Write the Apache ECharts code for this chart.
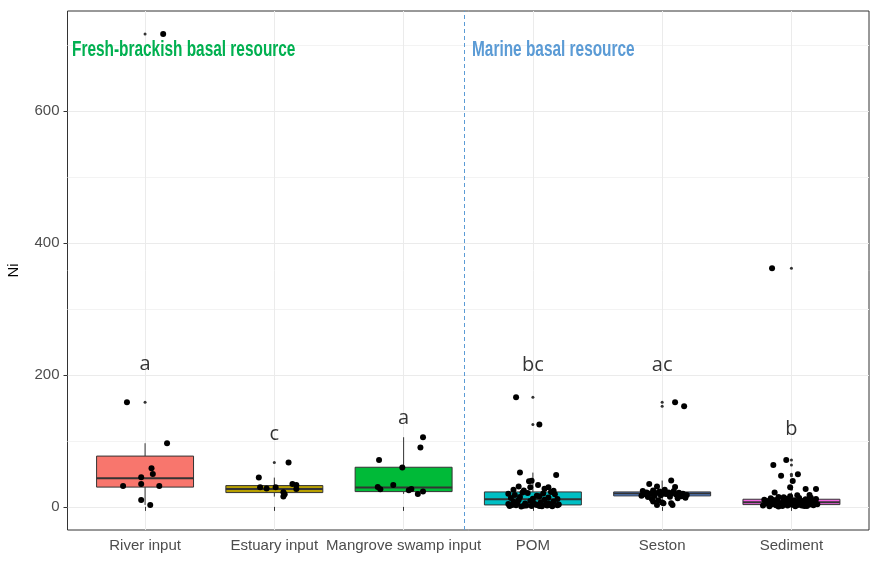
<!DOCTYPE html>
<html>
<head>
<meta charset="utf-8">
<script src="https://cdn.jsdelivr.net/npm/echarts@6/dist/echarts.min.js"></script>
<style>
  html, body { margin: 0; padding: 0; background: #ffffff; }
  #chart { width: 873px; height: 563px; }
</style>
</head>
<body>
<div id="chart"></div>
<script>
// Basal resource groups, in axis order (positions 1..6)
const categories = ['River input', 'Estuary input', 'Mangrove swamp input', 'POM', 'Seston', 'Sediment'];
const boxColors = ['#F8766D', '#B79F00', '#00BA38', '#00BFC4', '#619CFF', '#F564E3'];

// Box summaries: [lower whisker, Q1, median, Q3, upper whisker]
const boxStats = [
  [3, 30, 43.4, 77, 96.5],
  [15.6, 21.7, 27, 32.3, 44.4],
  [19.7, 23.2, 29.3, 60.1, 105.6],
  [0.8, 3, 11.6, 22.7, 52],
  [3, 16.7, 20.2, 22.7, 39.9],
  [0.8, 3.5, 7, 11.6, 21.7]
];

// Significance letters and the Ni level they sit at
const letters = ['a', 'c', 'a', 'bc', 'ac', 'b'];
const letterY = [216, 110, 134, 215, 215, 117];

// Jittered observations: [horizontal jitter, Ni]
const riverPts = [
  [-0.14, 158.6], [0.17, 96.5], [0.05, 58.6], [0.06, 50], [-0.03, 45], [-0.17, 31.8],
  [-0.03, 34.8], [0.11, 31.8], [-0.03, 10.6], [0.04, 3], [0.14, 716.7]
];
const estuaryPts = [
  [-0.12, 44.4], [0.11, 67.2], [-0.11, 29.8], [-0.06, 27.8], [0.01, 29.8], [0.14, 34.8],
  [0.17, 33.3], [0.17, 27.3], [0.07, 22.2], [0.08, 19.2], [0.07, 15.6]
];
const mangrovePts = [
  [-0.19, 71.2], [0.15, 105.6], [0.13, 90], [-0.01, 59.6], [-0.08, 33.3], [-0.2, 30.3],
  [-0.18, 26.8], [0.04, 25.3], [0.06, 27.3], [0.11, 19.7], [0.15, 23.2]
];
const pomPts = [
  [-0.18, 1.2], [-0.13, 2.5], [-0.09, 0.8], [-0.05, 2.0], [-0.01, 1.5], [0.03, 2.8], [0.07, 0.9],
  [0.11, 2.2], [0.15, 1.0], [0.19, 2.6], [-0.16, 2.9], [-0.07, 1.8], [0.05, 1.3], [0.13, 2.9],
  [-0.19, 4.5], [-0.15, 7.8], [-0.11, 10.5], [-0.06, 5.2], [-0.02, 9.0], [0.02, 4.0], [0.06, 6.5],
  [0.09, 10.8], [0.12, 5.5], [0.16, 8.3], [0.2, 3.8], [-0.12, 6.0], [0.0, 7.0], [0.1, 3.5],
  [-0.17, 13.5], [-0.14, 18.0], [-0.1, 15.0], [-0.04, 21.0], [0.0, 12.5], [0.03, 17.0], [0.08, 20.5],
  [0.12, 14.2], [0.17, 19.0], [0.19, 12.0], [-0.08, 22.0], [0.05, 16.0], [-0.19, 20.0], [0.14, 22.5],
  [-0.15, 26.0], [-0.11, 30.8], [-0.07, 25.0], [-0.02, 29.8], [0.04, 33.3], [0.09, 27.5], [0.12, 29.8],
  [0.16, 24.5], [-0.03, 38.9], [-0.01, 39.8], [-0.1, 52], [0.18, 48.5], [-0.13, 166], [0.05, 124.7]
];
const sestonPts = [
  [0.07, 39.9], [-0.1, 34.8], [-0.04, 31], [0.1, 30], [-0.15, 24], [-0.12, 22], [-0.07, 25],
  [-0.02, 23.5], [0.02, 26], [0.05, 22], [0.09, 24], [0.13, 21.5], [0.16, 20], [0.19, 18],
  [-0.14, 19], [-0.09, 20.5], [-0.05, 21], [0.0, 20.2], [0.03, 19.5], [0.08, 21], [0.11, 18.5],
  [0.15, 16], [-0.16, 17], [-0.11, 15], [-0.06, 16.5], [-0.01, 17.5], [0.06, 15.5], [0.12, 13],
  [0.18, 14], [-0.08, 12], [-0.03, 10], [-0.07, 8], [0.01, 5.6], [0.07, 5.6], [-0.04, 3],
  [0.08, 3], [0.0, 6.5], [0.1, 158.6], [0.17, 152.5]
];
const sedimentPts = [
  [-0.15, 361.6], [-0.04, 71.2], [-0.14, 63.6], [-0.08, 47.4], [0.05, 49.5], [0.01, 39.4],
  [-0.01, 29.8], [0.11, 27.3], [0.19, 27.3], [-0.13, 21.7], [0.14, 18.2],
  [-0.22, 2], [-0.2, 5], [-0.18, 9], [-0.17, 1], [-0.16, 13], [-0.15, 4], [-0.13, 7], [-0.12, 2.5],
  [-0.11, 11], [-0.1, 15], [-0.09, 3], [-0.08, 6], [-0.07, 1.5], [-0.06, 9.5], [-0.05, 4.5],
  [-0.04, 12.5], [-0.03, 2], [-0.02, 7.5], [-0.01, 16], [0, 3.5], [0.01, 5.5], [0.02, 10], [0.03, 1],
  [0.04, 8], [0.05, 3], [0.06, 13.5], [0.07, 6], [0.08, 2], [0.09, 9], [0.1, 4], [0.11, 11.5],
  [0.12, 1.5], [0.13, 7], [0.14, 3.5], [0.15, 14], [0.16, 5], [0.17, 2.5], [0.18, 8.5], [0.19, 12],
  [0.2, 4], [-0.19, 6.5], [-0.14, 10.5], [-0.1, 0.8], [-0.06, 14.5], [-0.02, 5], [0.02, 3],
  [0.06, 7], [0.1, 1.2], [0.14, 9.5], [0.18, 6], [-0.21, 11], [-0.005, 8.5], [0.045, 17.5],
  [0.085, 4.8], [0.125, 10.8]
];
const groupPts = [riverPts, estuaryPts, mangrovePts, pomPts, sestonPts, sedimentPts];

// Axis settings
const yMin = -35, yMax = 751.5;
const yMajor = [0, 200, 400, 600];
const yMinor = [100, 300, 500, 700];
const xPositions = [1, 2, 3, 4, 5, 6];
const dividerX = 3.47;
const boxWidth = 0.75;

// Build series data from the arrays above
const boxData = boxStats.map((s, i) => [xPositions[i]].concat(s));
const jitterData = [];
const outlierData = [];
groupPts.forEach((pts, i) => {
  const [lo, , , , hi] = boxStats[i];
  pts.forEach(([dx, v]) => {
    jitterData.push([xPositions[i] + dx, v]);
    if (v < lo || v > hi) outlierData.push([xPositions[i], v]);
  });
});
const letterData = letters.map((t, i) => ({ value: [xPositions[i], letterY[i]], name: t }));

const chart = echarts.init(document.getElementById('chart'), null, { renderer: 'canvas' });

const axisFont = 'Liberation Sans, Arial, sans-serif';

chart.setOption({
  animation: false,
  backgroundColor: '#ffffff',
  grid: {
    left: 67.5, right: 4, top: 11, bottom: 33,
    outerBoundsMode: 'none', containLabel: false,
    show: true, borderColor: '#333333', borderWidth: 1, backgroundColor: 'transparent'
  },
  xAxis: {
    type: 'value', min: 0.4, max: 6.6,
    axisLine: { show: false },
    axisTick: { show: true, customValues: xPositions, length: 4, lineStyle: { color: '#333333' } },
    axisLabel: {
      customValues: xPositions, margin: 8, color: '#4D4D4D', fontSize: 15, fontFamily: axisFont,
      formatter: v => categories[Math.round(v) - 1]
    },
    splitLine: { show: true, lineStyle: { color: '#EBEBEB', width: 1 } }
  },
  yAxis: [{
    type: 'value', min: yMin, max: yMax,
    name: 'Ni', nameLocation: 'middle', nameGap: 46,
    nameTextStyle: { color: '#000000', fontSize: 15, fontFamily: axisFont },
    axisLine: { show: false },
    axisTick: { show: true, customValues: yMajor, length: 4, lineStyle: { color: '#333333' } },
    axisLabel: { customValues: yMajor, margin: 8, color: '#4D4D4D', fontSize: 15, fontFamily: axisFont },
    splitLine: { show: true, lineStyle: { color: '#EBEBEB', width: 1 } }
  }, {
    type: 'value', min: yMin, max: yMax, position: 'left',
    axisLine: { show: false },
    axisTick: { show: false, customValues: yMinor },
    axisLabel: { show: false, customValues: yMinor },
    splitLine: { show: true, lineStyle: { color: '#F3F3F3', width: 1 } }
  }],
  graphic: [{
    type: 'text', left: 72, top: 39, scaleX: 0.7, z: 10,
    style: { text: 'Fresh-brackish basal resource', font: 'bold 22px Liberation Sans, Arial, sans-serif', fill: '#00B050' }
  }, {
    type: 'text', left: 472, top: 39, scaleX: 0.7, z: 10,
    style: { text: 'Marine basal resource', font: 'bold 22px Liberation Sans, Arial, sans-serif', fill: '#5B9BD5' }
  }],
  series: [{
    type: 'scatter',
    name: 'divider',
    z: 1,
    data: [],
    markLine: {
      silent: true, symbol: 'none', label: { show: false },
      lineStyle: { color: '#5B9BD5', type: [4, 3], width: 1, opacity: 1 },
      emphasis: { disabled: true },
      data: [{ xAxis: dividerX }]
    }
  }, {
    type: 'custom',
    name: 'box',
    z: 2,
    data: boxData,
    encode: { x: 0, y: [1, 2, 3, 4, 5] },
    renderItem(params, api) {
      const x = api.value(0);
      const lo = api.coord([x, api.value(1)]);
      const q1 = api.coord([x, api.value(2)]);
      const md = api.coord([x, api.value(3)]);
      const q3 = api.coord([x, api.value(4)]);
      const hi = api.coord([x, api.value(5)]);
      const left = api.coord([x - boxWidth / 2, 0])[0];
      const right = api.coord([x + boxWidth / 2, 0])[0];
      const stroke = '#333333';
      return {
        type: 'group',
        children: [
          { type: 'line', shape: { x1: q3[0], y1: q3[1], x2: hi[0], y2: hi[1] }, style: { stroke, lineWidth: 1 } },
          { type: 'line', shape: { x1: q1[0], y1: q1[1], x2: lo[0], y2: lo[1] }, style: { stroke, lineWidth: 1 } },
          { type: 'rect', shape: { x: left, y: q3[1], width: right - left, height: q1[1] - q3[1] },
            style: { fill: boxColors[params.dataIndex], stroke, lineWidth: 1 } },
          { type: 'line', shape: { x1: left, y1: md[1], x2: right, y2: md[1] }, style: { stroke, lineWidth: 2 } }
        ]
      };
    }
  }, {
    type: 'scatter',
    name: 'outliers',
    z: 3,
    symbolSize: 3,
    itemStyle: { color: '#333333', opacity: 1 },
    data: outlierData
  }, {
    type: 'scatter',
    name: 'observations',
    z: 4,
    symbolSize: 6,
    itemStyle: { color: '#000000', opacity: 1 },
    data: jitterData
  }, {
    type: 'scatter',
    name: 'letters',
    z: 5,
    symbolSize: 0,
    data: letterData,
    label: {
      show: true, position: 'inside', formatter: p => p.name,
      color: '#000000', fontSize: 20, fontFamily: 'Open Sans, Liberation Sans, sans-serif'
    }
  }]
});
</script>
</body>
</html>
